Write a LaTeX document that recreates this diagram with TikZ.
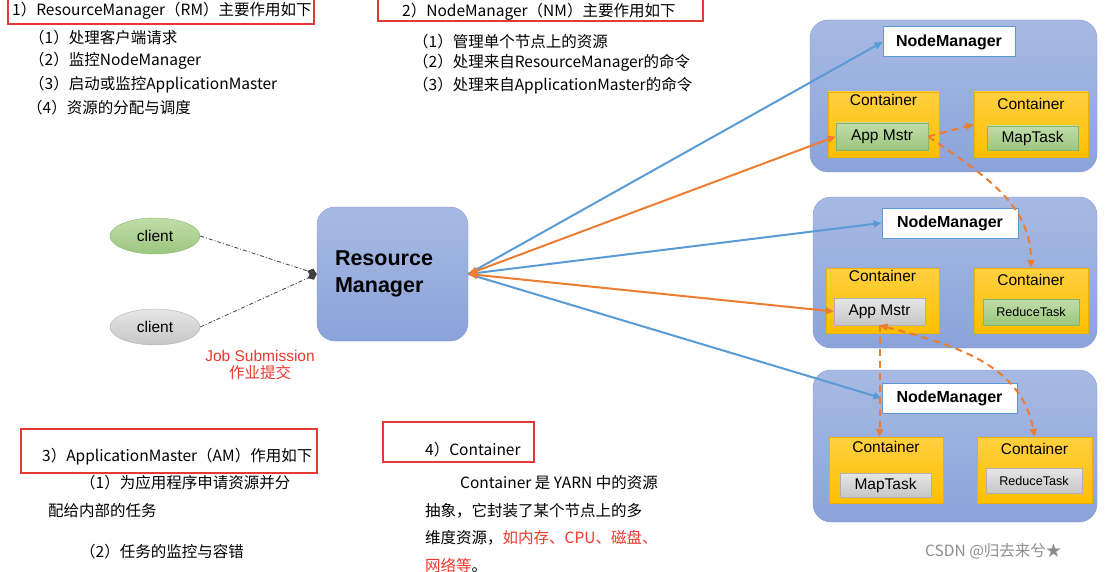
\documentclass[tikz,border=0pt]{standalone}
\usepackage{fontspec}
\setmainfont{Noto Sans CJK SC}
\newfontfamily\diagfont{Liberation Sans}
\usetikzlibrary{arrows.meta,shapes.geometric}

\definecolor{boxred}{HTML}{E53935}
\definecolor{txtred}{HTML}{F0372B}
\definecolor{nmtop}{HTML}{A8BAE3}
\definecolor{nmbot}{HTML}{8BA3DA}
\definecolor{nmedge}{HTML}{7E99D4}
\definecolor{goldtop}{HTML}{FFD040}
\definecolor{goldbot}{HTML}{FFBE00}
\definecolor{goldedge}{HTML}{EBB000}
\definecolor{greentop}{HTML}{C0DDAA}
\definecolor{greenbot}{HTML}{9CC67E}
\definecolor{greenedge}{HTML}{86B567}
\definecolor{graytop}{HTML}{E6E6E6}
\definecolor{graybot}{HTML}{C6C6C6}
\definecolor{grayedge}{HTML}{B0B0B0}
\definecolor{lineblue}{HTML}{5B9BD5}
\definecolor{lineorange}{HTML}{ED7D31}

\begin{document}
\begin{tikzpicture}[x=1pt, y=-1pt,
    every node/.style={font=\fontsize{15.5}{18}\selectfont},
    txt/.style={anchor=west, inner sep=0pt},
    headbox/.style={draw=boxred, line width=1.3pt},
    bigbox/.style={draw=nmedge, rounded corners=18pt, top color=nmtop, bottom color=nmbot},
    nmlabel/.style={draw=lineblue, fill=white, line width=1pt, font=\diagfont\bfseries\fontsize{16}{18}\selectfont},
    contbox/.style={draw=goldedge, top color=goldtop, bottom color=goldbot},
    greentask/.style={draw=greenedge, top color=greentop, bottom color=greenbot, font=\diagfont\fontsize{15.5}{18}\selectfont},
    graytask/.style={draw=grayedge, top color=graytop, bottom color=graybot, font=\diagfont\fontsize{15.5}{18}\selectfont},
    conttitle/.style={font=\diagfont\fontsize{15.5}{18}\selectfont},
    bluearrow/.style={draw=lineblue, line width=2pt, -{Triangle[length=8pt,width=7pt]}},
    orangearrow/.style={draw=lineorange, line width=2pt, {Triangle[length=9pt,width=8pt]}-{Triangle[length=8pt,width=7pt]}},
    dasharrow/.style={draw=lineorange, line width=2pt, dash pattern=on 7pt off 5pt, -{Triangle[length=8pt,width=7pt]}}
  ]
  \useasboundingbox (0,0) rectangle (1107,572);

  % text blocks
  \draw[headbox] (8,-2) rectangle (314,24);
  \node[txt] (rmhead) at (12,11) {1）ResourceManager（RM）主要作用如下};
  \node[txt] (rmone) at (29,38) {（1）处理客户端请求};
  \node[txt] (rmtwo) at (29,61) {（2）监控NodeManager};
  \node[txt] (rmthree) at (29,85) {（3）启动或监控ApplicationMaster};
  \node[txt] (rmfour) at (27,108) {（4）资源的分配与调度};

  \draw[headbox] (378,-2) rectangle (703,21);
  \node[txt] (nmhead) at (402,12) {2）NodeManager（NM）主要作用如下};
  \node[txt] (nmone) at (413,42) {（1）管理单个节点上的资源};
  \node[txt] (nmtwo) at (413,63) {（2）处理来自ResourceManager的命令};
  \node[txt] (nmthree) at (413,86) {（3）处理来自ApplicationMaster的命令};

  \draw[headbox] (21,429) rectangle (317,473);
  \node[txt] (amhead) at (42,457) {3）ApplicationMaster（AM）作用如下};
  \node[txt] (amone) at (80,483) {（1）为应用程序申请资源并分};
  \node[txt] (amonebis) at (48,511) {配给内部的任务};
  \node[txt] (amtwo) at (80,552) {（2）任务的监控与容错};

  \draw[headbox] (383,422) rectangle (534,462);
  \node[txt] (cthead) at (425,450) {4）Container};
  \node[txt] (ctone) at (460,483) {Container 是 YARN 中的资源};
  \node[txt] (cttwo) at (425,511) {抽象，它封装了某个节点上的多};
  \node[txt] (ctthree) at (425,538) {维度资源，\textcolor{txtred}{如内存、CPU、磁盘、}};
  \node[txt] (ctfour) at (425,565) {\textcolor{txtred}{网络等}。};

  % clients and resource manager
  \node[ellipse, draw=greenedge, top color=greentop, bottom color=greenbot, minimum width=90pt, minimum height=36pt, font=\diagfont\fontsize{15.5}{18}\selectfont] (cliA) at (155,236) {client};
  \node[ellipse, draw=grayedge, top color=graytop, bottom color=graybot, minimum width=90pt, minimum height=36pt, font=\diagfont\fontsize{15.5}{18}\selectfont] (cliB) at (155,327) {client};
  \node[bigbox, minimum width=151pt, minimum height=134pt, text width=115pt, align=left, font=\diagfont\bfseries\fontsize{21.5}{27}\selectfont] (rm) at (392.5,274) {Resource\\Manager};
  \node[align=center, text=txtred, font=\diagfont\fontsize{15.5}{19}\selectfont] (jobsub) at (260,365) {Job Submission\\[-2pt]{\rmfamily 作业提交}};

  % node managers
  \node[bigbox, minimum width=287pt, minimum height=152pt] (nmA) at (953.5,96) {};
  \node[bigbox, minimum width=284pt, minimum height=151pt] (nmB) at (955,272.5) {};
  \node[bigbox, minimum width=284pt, minimum height=152pt] (nmC) at (955,446) {};

  \node[nmlabel, minimum width=132pt, minimum height=30pt] (labA) at (949,42) {NodeManager};
  \node[nmlabel, minimum width=136pt, minimum height=30pt] (labB) at (950,223) {NodeManager};
  \node[nmlabel, minimum width=135pt, minimum height=30pt] (labC) at (949.5,398) {NodeManager};

  \node[contbox, minimum width=111pt, minimum height=65pt, label={[conttitle, anchor=north, inner sep=2pt]north:Container}] (conAL) at (883.5,124.5) {};
  \node[contbox, minimum width=114pt, minimum height=65pt, label={[conttitle, anchor=north, inner sep=6pt]north:Container}] (conAR) at (1031,124.5) {};
  \node[contbox, minimum width=113pt, minimum height=65pt, label={[conttitle, anchor=north, inner sep=2pt]north:Container}] (conBL) at (882.5,300.5) {};
  \node[contbox, minimum width=114pt, minimum height=65pt, label={[conttitle, anchor=north, inner sep=6pt]north:Container}] (conBR) at (1031,300.5) {};
  \node[contbox, minimum width=114pt, minimum height=66pt, label={[conttitle, anchor=north, inner sep=4pt]north:Container}] (conCL) at (886,470) {};
  \node[contbox, minimum width=115pt, minimum height=66pt, label={[conttitle, anchor=north, inner sep=6pt]north:Container}] (conCR) at (1034.5,470) {};

  \node[greentask, minimum width=92pt, minimum height=27pt] (amA) at (882,136.5) {App Mstr};
  \node[greentask, minimum width=91pt, minimum height=24pt] (mapA) at (1032.5,138) {MapTask};
  \node[graytask, minimum width=91pt, minimum height=27pt] (amB) at (879.5,311.5) {App Mstr};
  \node[greentask, minimum width=96pt, minimum height=26pt, font=\diagfont\fontsize{12.6}{15}\selectfont] (redB) at (1031,312) {ReduceTask};
  \node[graytask, minimum width=91pt, minimum height=24pt] (mapC) at (885.5,485) {MapTask};
  \node[graytask, minimum width=96pt, minimum height=25pt, font=\diagfont\fontsize{12.6}{15}\selectfont] (redC) at (1034,480.5) {ReduceTask};

  % connectors
  \draw[black!75, line width=0.8pt, dash pattern=on 4pt off 2pt on 1pt off 2pt, -{Diamond[length=10pt,width=8pt]}] (cliA.east) -- (rm.west);
  \draw[black!75, line width=0.8pt, dash pattern=on 4pt off 2pt on 1pt off 2pt, -{Diamond[length=10pt,width=8pt]}] (cliB.east) -- (rm.west);

  \draw[bluearrow] (rm.east) -- (labA.west);
  \draw[bluearrow] (rm.east) -- (labB.west);
  \draw[bluearrow] (rm.east) -- (labC.west);
  \draw[orangearrow] (rm.east) -- (amA.west);
  \draw[orangearrow] (rm.east) -- (amB.west);

  \draw[dasharrow] (amA.east) -- (conAR.west);
  \draw[dasharrow] (amA.east) to[out=-35, in=90] (conBR.north);
  \draw[dasharrow] (amB.south) -- (amB.south |- conCL.north);
  \draw[dasharrow, {Triangle[length=8pt,width=7pt]}-{Triangle[length=8pt,width=7pt]}] (amB.south) to[out=-15, in=100] (conCR.north);

  % watermark
  \node[txt, text=black!45] (mark) at (925,551) {CSDN @归去来兮★};
\end{tikzpicture}
\end{document}
